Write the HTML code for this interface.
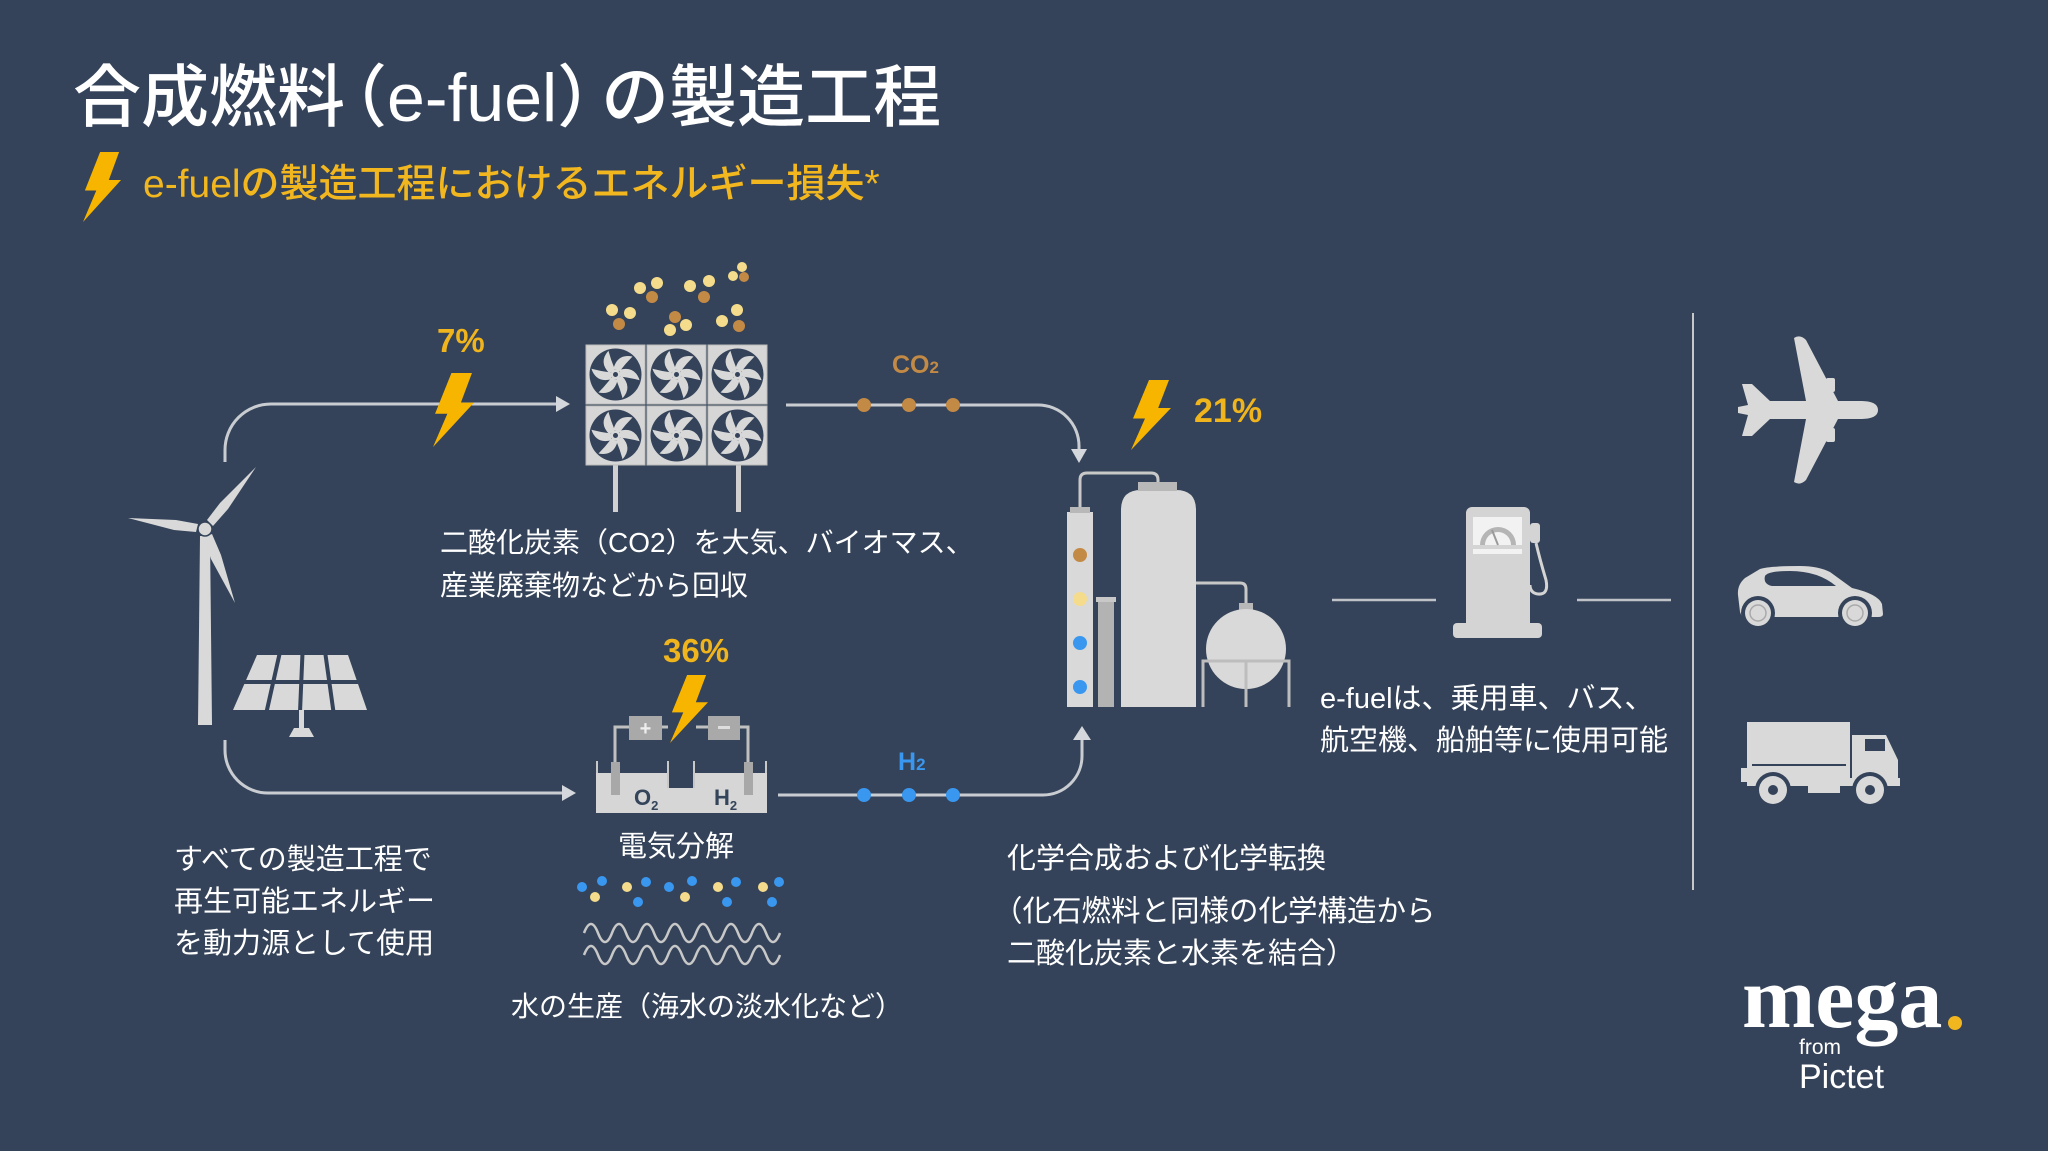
<!DOCTYPE html>
<html><head><meta charset="utf-8"><style>
html,body{margin:0;padding:0;background:#344359;}
svg{display:block;}
.jp{font-family:"Liberation Sans","Noto Sans CJK JP",sans-serif;}
</style></head><body>
<svg width="2048" height="1151" viewBox="0 0 2048 1151" xmlns="http://www.w3.org/2000/svg">
<defs>
<symbol id="bolt" viewBox="0 0 100 100" preserveAspectRatio="none">
<polygon points="45,0 95,0 68,40 100,40 0,100 35,55 5,55" fill="#f7b500"/>
</symbol>
<g id="fan">
<circle r="26" fill="#34435a"/>
<g fill="#d8d8d8">
<path d="M-2,-6 Q2,-21 17,-18 Q10,-11 4,-3 Z"/>
<path d="M-2,-6 Q2,-21 17,-18 Q10,-11 4,-3 Z" transform="rotate(60)"/>
<path d="M-2,-6 Q2,-21 17,-18 Q10,-11 4,-3 Z" transform="rotate(120)"/>
<path d="M-2,-6 Q2,-21 17,-18 Q10,-11 4,-3 Z" transform="rotate(180)"/>
<path d="M-2,-6 Q2,-21 17,-18 Q10,-11 4,-3 Z" transform="rotate(240)"/>
<path d="M-2,-6 Q2,-21 17,-18 Q10,-11 4,-3 Z" transform="rotate(300)"/>
</g>
<circle r="5" fill="#d8d8d8"/><circle r="2.5" fill="#34435a"/>
</g>
</defs>
<rect width="2048" height="1151" fill="#344359"/>

<!-- Title -->
<text class="jp" x="73" y="121" font-size="68" font-weight="500" fill="#ffffff">合成燃料<tspan dx="-26">（</tspan>e-fuel<tspan>）</tspan><tspan dx="-24">の製造工程</tspan></text>
<use href="#bolt" x="83" y="152" width="38" height="70"/>
<text class="jp" x="143" y="197" font-size="39" font-weight="500" fill="#f2b61e">e-fuelの製造工程におけるエネルギー損失*</text>

<!-- wind turbine -->
<g fill="#d9d9d9">
<polygon points="200,536 210,536 212,725 198,725"/>
<polygon points="207,520 220,503 256,467 228,509 213,526"/>
<polygon points="198,524 176,520 128,518 174,530 196,532"/>
<polygon points="212,534 221,555 235,603 211,559 204,537"/>
<circle cx="205" cy="529" r="7" stroke="#344359" stroke-width="1.5"/>
</g>
<!-- solar panel -->
<g>
<polygon points="257,655 348,655 367,710 233,710" fill="#d9d9d9"/>
<g stroke="#344359" stroke-width="4">
<line x1="240" y1="682" x2="360" y2="682"/>
<line x1="279.75" y1="653" x2="266.5" y2="712"/>
<line x1="302.5" y1="653" x2="300" y2="712"/>
<line x1="325.25" y1="653" x2="333.5" y2="712"/>
</g>
<rect x="299" y="710" width="5" height="19" fill="#d9d9d9"/>
<polygon points="289,737 294,728 309,728 314,737" fill="#d9d9d9"/>
</g>

<!-- connectors -->
<g fill="none" stroke="#c9cdd2" stroke-width="3">
<path d="M225,462 V450 A46,46 0 0 1 271,404 H557"/>
<path d="M225,740 V750 A43,43 0 0 0 268,793 H563"/>
<path d="M786,405 H1038 A41,41 0 0 1 1079,446 V450"/>
<path d="M778,795 H1043 A39,39 0 0 0 1082,756 V739"/>
</g>
<g fill="#d4d7db">
<polygon points="556,396 570,404 556,412"/>
<polygon points="562,785 576,793 562,801"/>
<polygon points="1071,449 1087,449 1079,463"/>
<polygon points="1073,740 1091,740 1082,726"/>
</g>

<!-- 7% -->
<text x="437" y="352" font-family="Liberation Sans, sans-serif" font-weight="bold" font-size="33" fill="#f0b41c">7%</text>
<use href="#bolt" x="433" y="373" width="41" height="74"/>

<!-- DAC fans -->
<g>
<rect x="613" y="462" width="5" height="50" fill="#d0d0d0"/>
<rect x="736" y="462" width="5" height="50" fill="#d0d0d0"/>
<g fill="#d6d6d6" stroke="#bcbcbc" stroke-width="1">
<rect x="586" y="345" width="59" height="59"/><rect x="647" y="345" width="59" height="59"/><rect x="708" y="345" width="59" height="59"/>
<rect x="586" y="406" width="59" height="59"/><rect x="647" y="406" width="59" height="59"/><rect x="708" y="406" width="59" height="59"/>
</g>
<use href="#fan" x="615.5" y="374.5"/><use href="#fan" x="676.5" y="374.5"/><use href="#fan" x="737.5" y="374.5"/>
<use href="#fan" x="615.5" y="435.5"/><use href="#fan" x="676.5" y="435.5"/><use href="#fan" x="737.5" y="435.5"/>
</g>
<!-- particles -->
<g>
<g fill="#f5dc8c">
<circle cx="612" cy="310" r="6"/><circle cx="630" cy="313" r="6"/>
<circle cx="640" cy="288" r="6"/><circle cx="657" cy="283" r="6"/>
<circle cx="690" cy="286" r="6"/><circle cx="709" cy="281" r="6"/>
<circle cx="670" cy="330" r="6"/><circle cx="686" cy="325" r="6"/>
<circle cx="722" cy="321" r="6"/><circle cx="737" cy="310" r="6"/>
<circle cx="733" cy="276" r="5"/><circle cx="742" cy="267" r="5"/>
</g>
<g fill="#c38a45">
<circle cx="619" cy="324" r="6"/><circle cx="652" cy="297" r="6"/><circle cx="704" cy="297" r="6"/>
<circle cx="675" cy="317" r="6"/><circle cx="739" cy="326" r="6"/><circle cx="744" cy="277" r="5"/>
</g>
</g>

<!-- CO2 desc -->
<text class="jp" x="440" y="552" font-size="28" fill="#ffffff">二酸化炭素（CO2）を大気、バイオマス、</text>
<text class="jp" x="440" y="595" font-size="28" fill="#ffffff">産業廃棄物などから回収</text>

<!-- CO2 line -->
<text x="892" y="373" font-family="Liberation Sans, sans-serif" font-weight="bold" font-size="25" fill="#c38a45">CO<tspan font-size="17">2</tspan></text>
<g fill="#c38a45"><circle cx="864" cy="405" r="7"/><circle cx="909" cy="405" r="7"/><circle cx="953" cy="405" r="7"/></g>

<!-- 21% -->
<use href="#bolt" x="1131" y="380" width="40" height="70"/>
<text x="1194" y="422" font-family="Liberation Sans, sans-serif" font-weight="bold" font-size="34" fill="#f0b41c">21%</text>

<!-- chemical plant -->
<g>
<path d="M1080,508 V480 Q1080,473 1087,473 H1151 Q1158,473 1158,480 V486" fill="none" stroke="#c8c8c8" stroke-width="3"/>
<path d="M1196,583 H1240 Q1246,583 1246,589 V604" fill="none" stroke="#c8c8c8" stroke-width="3"/>
<rect x="1067" y="512" width="26" height="195" fill="#d9d9d9"/>
<rect x="1070" y="507" width="20" height="6" fill="#b8b8b8"/>
<rect x="1098" y="600" width="16" height="107" fill="#b3b3b3"/>
<rect x="1096" y="597" width="20" height="5" fill="#c8c8c8"/>
<path d="M1121,707 V510 Q1121,490 1141,490 H1176 Q1196,490 1196,510 V707 Z" fill="#d9d9d9"/>
<rect x="1138" y="482" width="39" height="9" fill="#b8b8b8"/>
<rect x="1239" y="603" width="14" height="8" fill="#b8b8b8"/>
<circle cx="1246" cy="649" r="40" fill="#d9d9d9"/>
<path d="M1203,707 V661 H1289 V707 M1246,661 V707" fill="none" stroke="#bdbdbd" stroke-width="3"/>
<circle cx="1080" cy="555" r="7" fill="#c38a45"/>
<circle cx="1080" cy="599" r="7" fill="#f5dc8c"/>
<circle cx="1080" cy="643" r="7" fill="#3a97ef"/>
<circle cx="1080" cy="687" r="7" fill="#3a97ef"/>
</g>

<!-- electrolysis -->
<text x="663" y="662" font-family="Liberation Sans, sans-serif" font-weight="bold" font-size="33" fill="#f0b41c">36%</text>
<g>
<g fill="none" stroke="#c0c0c0" stroke-width="3">
<path d="M615,762 V727 H629 M662,727 H668 M696,727 H708 M740,727 H748 V762"/>
</g>
<rect x="629" y="716" width="33" height="24" fill="#a9a9a9"/>
<rect x="708" y="716" width="32" height="24" fill="#a9a9a9"/>
<text x="645.5" y="735" text-anchor="middle" font-family="Liberation Sans, sans-serif" font-weight="bold" font-size="20" fill="#eeeeee">+</text>
<rect x="718" y="726" width="12" height="3" fill="#dddddd"/>
<g fill="#d6d6d6">
<rect x="596" y="773" width="73" height="40"/>
<rect x="693" y="773" width="74" height="40"/>
<rect x="668" y="788" width="26" height="25"/>
</g>
<g stroke="#c8c8c8" stroke-width="2">
<line x1="597" y1="761" x2="597" y2="773"/><line x1="766" y1="761" x2="766" y2="773"/>
<line x1="668" y1="761" x2="668" y2="788"/><line x1="694" y1="761" x2="694" y2="788"/>
</g>
<rect x="611" y="762" width="9" height="33" fill="#a8a8a8"/>
<rect x="744" y="762" width="9" height="33" fill="#a8a8a8"/>
<text x="634" y="805" font-family="Liberation Sans, sans-serif" font-weight="bold" font-size="22" fill="#34445a">O<tspan font-size="13" dy="5">2</tspan></text>
<text x="714" y="805" font-family="Liberation Sans, sans-serif" font-weight="bold" font-size="22" fill="#34445a">H<tspan font-size="13" dy="5">2</tspan></text>
</g>
<use href="#bolt" x="670" y="675" width="38" height="68"/>

<!-- H2 line -->
<text x="898" y="770" font-family="Liberation Sans, sans-serif" font-weight="bold" font-size="25" fill="#3a97ef">H<tspan font-size="17">2</tspan></text>
<g fill="#3a97ef"><circle cx="864" cy="795" r="7"/><circle cx="909" cy="795" r="7"/><circle cx="953" cy="795" r="7"/></g>

<text class="jp" x="676" y="856" text-anchor="middle" font-size="29" fill="#ffffff">電気分解</text>

<!-- water -->
<g fill="#3a97ef">
<circle cx="582" cy="887" r="5"/><circle cx="602" cy="881" r="5"/>
<circle cx="646" cy="882" r="5"/><circle cx="638" cy="902" r="5"/>
<circle cx="669" cy="887" r="5"/><circle cx="692" cy="881" r="5"/>
<circle cx="736" cy="882" r="5"/><circle cx="727" cy="902" r="5"/>
<circle cx="779" cy="882" r="5"/><circle cx="772" cy="902" r="5"/>
</g>
<g fill="#f5dc8c">
<circle cx="595" cy="897" r="5"/><circle cx="627" cy="887" r="5"/><circle cx="685" cy="897" r="5"/>
<circle cx="718" cy="887" r="5"/><circle cx="763" cy="887" r="5"/>
</g>
<g fill="none" stroke="#c8c8c8" stroke-width="2.5">
<path d="M584,933 q7,-18 14,0 t14,0 t14,0 t14,0 t14,0 t14,0 t14,0 t14,0 t14,0 t14,0 t14,0 t14,0 t14,0 t14,0"/>
<path d="M584,955 q7,-18 14,0 t14,0 t14,0 t14,0 t14,0 t14,0 t14,0 t14,0 t14,0 t14,0 t14,0 t14,0 t14,0 t14,0"/>
</g>
<text class="jp" x="511" y="1016" font-size="28" fill="#ffffff">水の生産（海水の淡水化など）</text>

<!-- left text -->
<text class="jp" x="174" y="869" font-size="29" fill="#ffffff">すべての製造工程で</text>
<text class="jp" x="174" y="911" font-size="29" fill="#ffffff">再生可能エネルギー</text>
<text class="jp" x="174" y="953" font-size="29" fill="#ffffff">を動力源として使用</text>

<!-- chemical text -->
<text class="jp" x="1007" y="868" font-size="29" fill="#ffffff">化学合成および化学転換</text>
<text class="jp" x="993" y="921" font-size="29.5" fill="#ffffff">（化石燃料と同様の化学構造から</text>
<text class="jp" x="1007" y="963" font-size="29" fill="#ffffff">二酸化炭素と水素を結合）</text>

<!-- pump -->
<g>
<line x1="1332" y1="600" x2="1436" y2="600" stroke="#bfc3c8" stroke-width="2.5"/>
<line x1="1577" y1="600" x2="1671" y2="600" stroke="#bfc3c8" stroke-width="2.5"/>
<rect x="1466" y="507" width="64" height="122" rx="6" fill="#d4d4d4"/>
<rect x="1453" y="623" width="89" height="15" rx="4" fill="#d4d4d4"/>
<rect x="1473" y="517" width="49" height="28" fill="#f2f2f2"/>
<path d="M1480,545 A18,18 0 0 1 1516,545 Z" fill="#b5b5b5"/>
<path d="M1485,545 A13,13 0 0 1 1511,545 Z" fill="#f2f2f2"/>
<line x1="1498" y1="545" x2="1492" y2="530" stroke="#9a9a9a" stroke-width="2"/>
<rect x="1473" y="549" width="49" height="5" fill="#f2f2f2"/>
<rect x="1530" y="523" width="10" height="20" rx="3" fill="#d4d4d4"/>
<path d="M1536,543 Q1540,560 1546,580 Q1549,595 1538,594 Q1530,593 1530,585" fill="none" stroke="#d4d4d4" stroke-width="3"/>
</g>
<text class="jp" x="1320" y="708" font-size="29" fill="#ffffff">e-fuelは、乗用車、バス、</text>
<text class="jp" x="1320" y="750" font-size="29" fill="#ffffff">航空機、船舶等に使用可能</text>

<!-- divider -->
<line x1="1693" y1="313" x2="1693" y2="890" stroke="#c8c8c8" stroke-width="2"/>

<!-- airplane -->
<g fill="#d9d9d9">
<path d="M1878,410 C1878,403 1870,401 1860,401 L1838,401 L1806,340 Q1800,334 1794,338 L1806,401 L1770,401 L1752,384 L1742,384 L1748,405 L1738,407 L1738,413 L1748,415 L1742,436 L1752,436 L1770,419 L1806,419 L1794,482 Q1800,486 1806,480 L1838,419 L1860,419 C1870,419 1878,417 1878,410 Z"/>
<rect x="1826" y="378" width="9" height="14" rx="2"/>
<rect x="1826" y="428" width="9" height="14" rx="2"/>
</g>

<!-- car -->
<g>
<path d="M1740,612 L1738,595 Q1737,585 1745,578 L1760,569 Q1768,566 1800,566 Q1818,566 1830,572 L1852,588 Q1878,594 1882,604 L1883,614 Q1883,617 1878,617 L1742,617 Z" fill="#d9d9d9"/>
<path d="M1765,576 Q1768,571 1790,571 Q1818,571 1836,586 L1772,586 Q1763,584 1765,576 Z" fill="#34435a"/>
<circle cx="1758" cy="613" r="17" fill="#34435a"/><circle cx="1758" cy="613" r="13" fill="#d9d9d9"/>
<circle cx="1758" cy="613" r="8" fill="none" stroke="#a9a9a9" stroke-width="1.5"/>
<circle cx="1855" cy="613" r="17" fill="#34435a"/><circle cx="1855" cy="613" r="13" fill="#d9d9d9"/>
<circle cx="1855" cy="613" r="8" fill="none" stroke="#a9a9a9" stroke-width="1.5"/>
</g>

<!-- truck -->
<g>
<rect x="1747" y="722" width="103" height="60" fill="#d9d9d9"/>
<path d="M1852,735 H1886 L1898,760 V784 H1852 Z" fill="#d9d9d9"/>
<rect x="1865" y="739" width="20" height="12" fill="#34435a"/>
<line x1="1752" y1="765" x2="1846" y2="765" stroke="#34435a" stroke-width="2"/>
<rect x="1741" y="768" width="8" height="14" fill="#d9d9d9"/>
<rect x="1747" y="778" width="153" height="8" fill="#d9d9d9"/>
<rect x="1808" y="786" width="32" height="7" fill="#d9d9d9"/>
<circle cx="1773" cy="790" r="18" fill="#34435a"/><circle cx="1773" cy="790" r="14" fill="#d9d9d9"/><circle cx="1773" cy="790" r="5" fill="#34435a"/>
<circle cx="1870" cy="790" r="18" fill="#34435a"/><circle cx="1870" cy="790" r="14" fill="#d9d9d9"/><circle cx="1870" cy="790" r="5" fill="#34435a"/>
</g>

<!-- logo -->
<text x="1742" y="1027" font-family="Liberation Serif, serif" font-weight="bold" font-size="88" fill="#ffffff">mega</text>
<circle cx="1955" cy="1023" r="7" fill="#f2b61e"/>
<text x="1799" y="1054" font-family="Liberation Sans, sans-serif" font-size="21" fill="#ffffff">from</text>
<text x="1799" y="1088" font-family="Liberation Sans, sans-serif" font-size="34" fill="#ffffff">Pictet</text>
</svg>
</body></html>
